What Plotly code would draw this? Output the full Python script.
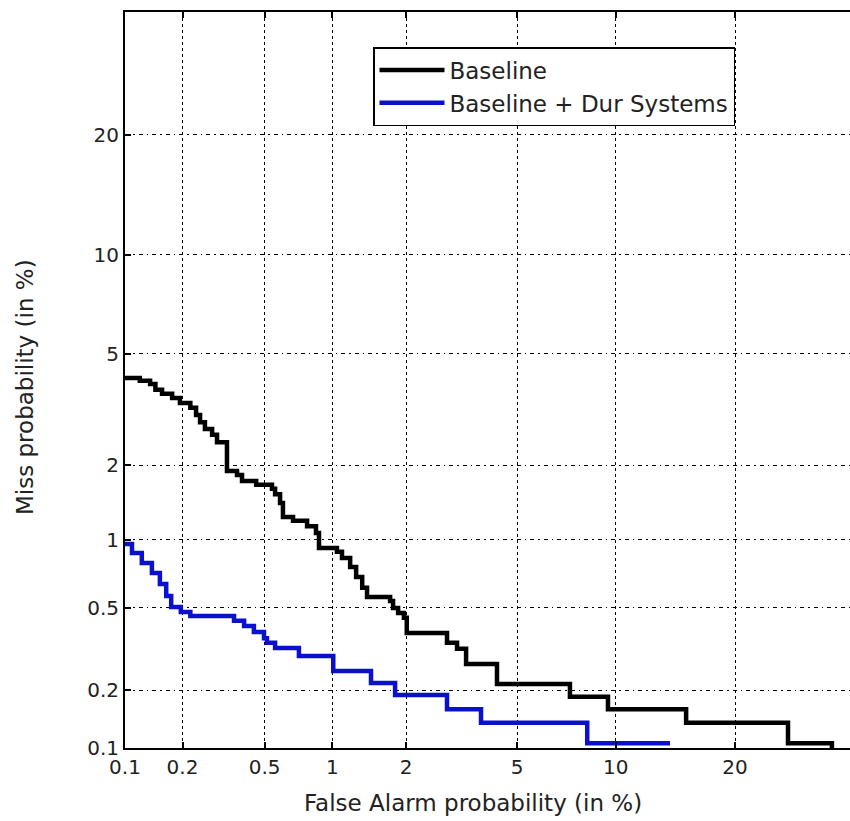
from statistics import NormalDist
import plotly.graph_objects as go

# DET curve data (percent), step points: (false alarm %, miss %)
baseline_fa = [0.100, 0.120, 0.136, 0.145, 0.157, 0.177, 0.194, 0.219, 0.234, 0.245,
               0.259, 0.281, 0.297, 0.332, 0.371, 0.392, 0.457, 0.541, 0.559, 0.589,
               0.607, 0.674, 0.778, 0.851, 0.877, 1.047, 1.10, 1.19, 1.26, 1.335,
               1.397, 1.73, 1.777, 1.86, 1.96, 2.01, 2.85, 3.10, 3.34, 4.28,
               7.35, 9.51, 15.34, 25.9, 31.4]
baseline_miss = [4.15, 4.06, 3.96, 3.78, 3.66, 3.54, 3.40, 3.27, 3.08, 2.90,
                 2.74, 2.61, 2.45, 1.90, 1.835, 1.74, 1.68, 1.62, 1.54, 1.42,
                 1.245, 1.20, 1.14, 1.067, 0.921, 0.887, 0.835, 0.763, 0.689, 0.616,
                 0.560, 0.537, 0.498, 0.473, 0.449, 0.381, 0.342, 0.320, 0.270, 0.215,
                 0.185, 0.160, 0.136, 0.106, 0.09]

dur_fa = [0.100, 0.109, 0.123, 0.139, 0.153, 0.165, 0.175, 0.196, 0.219, 0.359,
          0.401, 0.446, 0.497, 0.513, 0.559, 0.716, 1.01, 1.45, 1.81, 2.85,
          3.77, 8.28, 13.98]
dur_miss = [0.959, 0.877, 0.793, 0.718, 0.641, 0.566, 0.504, 0.478, 0.458, 0.435,
            0.411, 0.385, 0.360, 0.342, 0.323, 0.295, 0.249, 0.217, 0.189, 0.160,
            0.136, 0.106, 0.106]

tick_values = [0.1, 0.2, 0.5, 1, 2, 5, 10, 20]
tick_labels = ["0.1", "0.2", "0.5", "1", "2", "5", "10", "20"]

series_names = ["Baseline", "Baseline + Dur Systems"]
series_colors = ["#000000", "#0a10cc"]

nd = NormalDist()


def probit(p):
    return nd.inv_cdf(p / 100.0)


W, H = 850, 821
L, R, T, B = 125, 0, 12, 73
x0 = probit(0.1)
x1 = x0 + (W - L - R) / 271.3
y0 = probit(0.1)
y1 = y0 + (H - T - B) / 272.7

fig = go.Figure()
for name, color, fa, miss in [
    (series_names[0], series_colors[0], baseline_fa, baseline_miss),
    (series_names[1], series_colors[1], dur_fa, dur_miss),
]:
    fig.add_trace(go.Scatter(
        x=[probit(v) for v in fa],
        y=[probit(v) for v in miss],
        mode="lines",
        line=dict(color=color, width=4.5, shape="hv"),
        name=name,
    ))

font_family = "DejaVu Sans, Liberation Sans, Arial, sans-serif"
txt = "#222222"

fig.update_xaxes(
    range=[x0, x1],
    tickvals=[probit(v) for v in tick_values],
    ticktext=tick_labels,
    showgrid=True, gridcolor="#000000", gridwidth=1, griddash="dot",
    zeroline=False,
    showline=True, linecolor="#000000", linewidth=2, mirror="ticks",
    ticks="inside", ticklen=6, tickcolor="#000000", tickwidth=1.5,
    tickfont=dict(size=20, color=txt, family=font_family),
)
fig.update_yaxes(
    range=[y0, y1],
    tickvals=[probit(v) for v in tick_values],
    ticktext=tick_labels,
    showgrid=True, gridcolor="#000000", gridwidth=1, griddash="4px,4px,1.5px,4px",
    zeroline=False,
    showline=True, linecolor="#000000", linewidth=2, mirror=False,
    ticks="inside", ticklen=6, tickcolor="#000000", tickwidth=1.5,
    tickfont=dict(size=20, color=txt, family=font_family),
)

fig.update_layout(
    width=W, height=H,
    margin=dict(l=L, r=R, t=T, b=B),
    paper_bgcolor="white", plot_bgcolor="white",
    font=dict(family=font_family, color=txt),
    showlegend=True,
    legend=dict(
        x=(373 - L) / (W - L - R), y=(H - B - 47) / (H - T - B),
        xanchor="left", yanchor="top",
        bgcolor="white", bordercolor="#000000", borderwidth=1.5,
        font=dict(size=23, family=font_family, color=txt),
        itemwidth=65, tracegroupgap=0,
    ),
    annotations=[
        dict(text="False Alarm probability (in %)", xref="paper", yref="paper",
             x=(473 - L) / (W - L - R), y=-(803 - (H - B)) / (H - T - B),
             xanchor="center", yanchor="middle", showarrow=False,
             font=dict(size=23, family=font_family, color=txt)),
        dict(text="Miss probability (in %)", xref="paper", yref="paper",
             x=-(L - 25) / (W - L - R), y=(H - B - 387) / (H - T - B),
             xanchor="center", yanchor="middle", showarrow=False, textangle=-90,
             font=dict(size=23, family=font_family, color=txt)),
    ],
)

fig.write_html("out.html")
